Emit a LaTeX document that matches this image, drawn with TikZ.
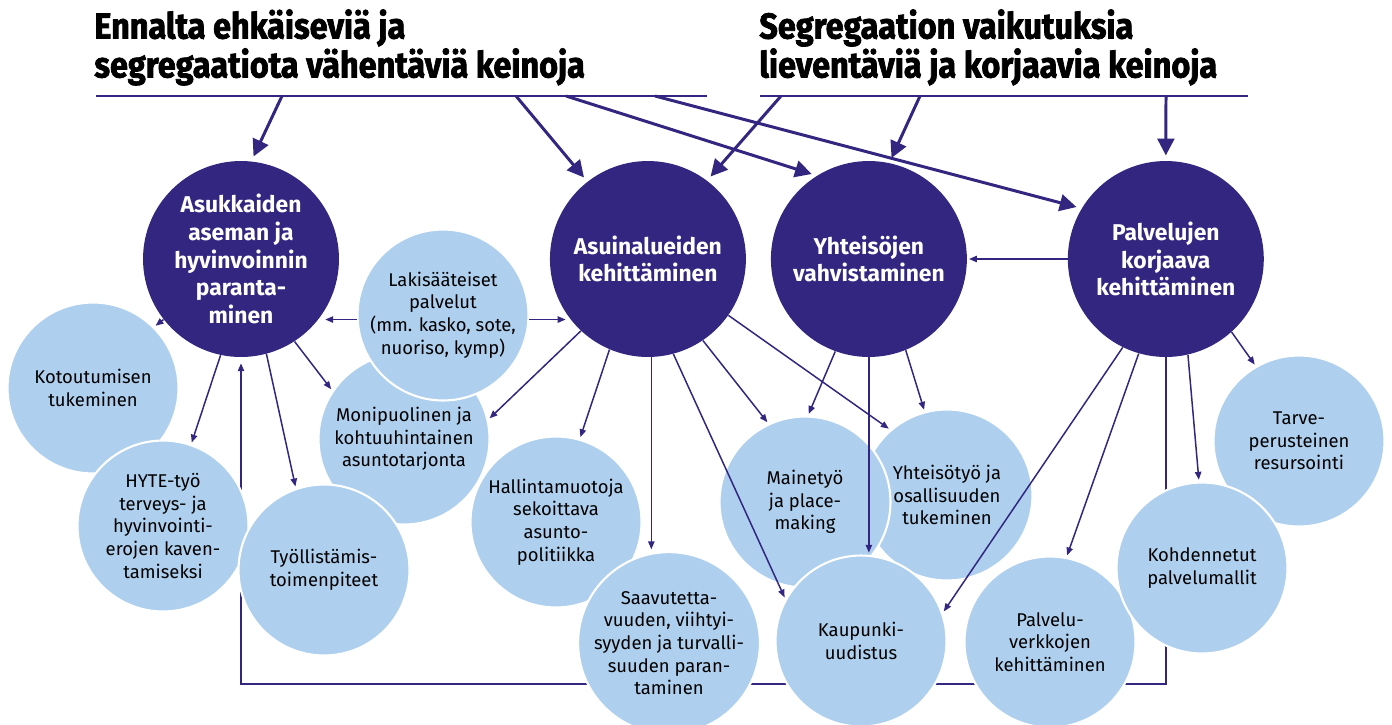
\documentclass[tikz,border=0pt]{standalone}
\usepackage{fontspec}
\setmainfont{Fira Sans}
\newfontfamily\titulofont[FakeStretch=0.9,FakeBold=2]{Fira Sans}
\usetikzlibrary{arrows.meta, positioning}
\definecolor{morado}{RGB}{50,38,128}
\definecolor{celeste}{RGB}{174,208,238}
\tikzstyle{principal}=[circle, fill=morado, text=white, minimum size=3.92cm,
inner sep=0pt, align=center, font=\bfseries\fontsize{13}{15.7}\selectfont]
\tikzstyle{medida}=[circle, fill=celeste, draw=white, line width=1.2pt,
minimum size=3.42cm, inner sep=0pt, align=center, font=\fontsize{10.5}{12.9}\selectfont]
\tikzstyle{titulo}=[anchor=north west, inner sep=0pt, align=left,
font=\titulofont\bfseries\fontsize{20.5}{21}\selectfont]
\tikzstyle{raya}=[morado, line width=1.7pt]
\tikzstyle{flecha}=[morado, line width=1.7pt, shorten >=3pt, -{Triangle[length=9.5pt,width=9.5pt]}]
\tikzstyle{flechita}=[morado, line width=0.85pt, shorten >=1pt, -{Triangle[length=4.5pt,width=3.6pt]}]

\begin{document}
\begin{tikzpicture}[x=0.02cm, y=-0.02cm]
	\useasboundingbox (0,0) rectangle (1392,724);
	% encabezados
	\node[titulo] (prevencion) at (94,9) {Ennalta ehkäiseviä ja\\segregaatiota vähentäviä keinoja};
	\node[titulo] (correccion) at (759,9) {Segregaation vaikutuksia\\lieventäviä ja korjaavia keinoja};
	\coordinate (izqa) at (96,96);
	\coordinate (izqb) at (707,96);
	\coordinate (dera) at (760,96);
	\coordinate (derb) at (1248,96);
	\draw[raya] (izqa) -- (izqb);
	\draw[raya] (dera) -- (derb);
	\coordinate (p1) at (282,96);
	\coordinate (p2) at (516,96);
	\coordinate (p3) at (566,96);
	\coordinate (p4) at (655,96);
	\coordinate (k1) at (781,96);
	\coordinate (k2) at (920,96);
	\coordinate (k3) at (1166,96);
	% circulos principales
	\node[principal] (asukkaat) at (241,259) {Asukkaiden\\aseman ja\\hyvinvoinnin\\paranta-\\minen};
	\node[principal, right of=asukkaat, node distance=8.14cm] (asuinalueet) {Asuinalueiden\\kehittäminen};
	\node[principal, right of=asuinalueet, node distance=4.42cm] (yhteisot) {Yhteisöjen\\vahvistaminen};
	\node[principal, right of=yhteisot, node distance=5.94cm] (palvelut) {Palvelujen\\korjaava\\kehittäminen};
	\draw[flecha] (p1) -- (asukkaat.84);
	\draw[flecha] (p2) -- (asuinalueet.128);
	\draw[flecha] (p3) -- (yhteisot.122);
	\draw[flecha] (p4) -- (palvelut.149);
	\draw[flecha] (k1) -- (asuinalueet.53);
	\draw[flecha] (k2) -- (yhteisot.78);
	\draw[flecha] (k3) -- (palvelut.north);
	% retorno
	\coordinate (retorno) at (0,684);
	\draw[flechita, shorten >=3.4pt] (palvelut.south) -- (palvelut.south |- retorno) -| (asukkaat.south);
	% medidas
	\node[medida] (kotoutuminen) at (93,388) {Kotoutumisen\\tukeminen};
	\node[medida] (hyte) at (163,526) {HYTE-työ\\terveys- ja\\hyvinvointi-\\erojen kaven-\\tamiseksi};
	\node[medida] (monipuolinen) at (404,439) {Monipuolinen ja\\kohtuuhintainen\\asuntotarjonta};
	\node[medida] (lakisaateiset) at (443,315) {Lakisääteiset\\palvelut\\(mm. kasko, sote,\\nuoriso, kymp)};
	\node[medida] (tyollisyys) at (324,570) {Työllistämis-\\toimenpiteet};
	\node[medida] (hallinta) at (556,522) {Hallintamuotoja\\sekoittava\\asunto-\\politiikka};
	\node[medida] (saavutettavuus) at (669,643) {Saavutetta-\\vuuden, viihtyi-\\syyden ja turvalli-\\suuden paran-\\taminen};
	\node[medida] (yhteisotyo) at (947,495) {Yhteisötyö ja\\osallisuuden\\tukeminen};
	\node[medida] (mainetyo) at (805,502) {Mainetyö\\ja place-\\making};
	\node[medida] (kaupunki) at (861,641) {Kaupunki-\\uudistus};
	\node[medida] (tarve) at (1299,441) {Tarve-\\perusteinen\\resursointi};
	\node[medida] (palveluverkot) at (1050,642) {Palvelu-\\verkkojen\\kehittäminen};
	\node[medida] (kohdennetut) at (1202,568) {Kohdennetut\\palvelumallit};
	% flechas
	\draw[flechita] (asukkaat.218) -- (kotoutuminen.45);
	\draw[flechita] (asukkaat.258) -- (hyte.71);
	\draw[flechita] (asukkaat.285) -- (tyollisyys.109);
	\draw[flechita] (asukkaat.303) -- (monipuolinen.146);
	\draw[flechita] (lakisaateiset.183) -- (asukkaat.327 |- lakisaateiset.183);
	\draw[flechita] (lakisaateiset.357) -- (asuinalueet.215 |- lakisaateiset.357);
	\draw[flechita] (asuinalueet.227) -- (monipuolinen.13);
	\draw[flechita] (asuinalueet.247) -- (hallinta.74);
	\draw[flechita] (asuinalueet.272) -- (asuinalueet.272 |- saavutettavuus.north);
	\draw[flechita] (asuinalueet.285) -- (kaupunki.151);
	\draw[flechita] (asuinalueet.304) -- (mainetyo.115);
	\draw[flechita] (asuinalueet.325) -- (yhteisotyo.131);
	\draw[flechita] (yhteisot.250) -- (mainetyo.88);
	\draw[flechita] (yhteisot.south) -- (yhteisot.south |- kaupunki.north);
	\draw[flechita] (yhteisot.292) -- (yhteisotyo.105);
	\draw[flechita] (palvelut.west) -- (yhteisot.east);
	\draw[flechita] (palvelut.312) -- (tarve.120);
	\draw[flechita] (palvelut.244) -- (kaupunki.19);
	\draw[flechita] (palvelut.254) -- (palveluverkot.79);
	\draw[flechita] (palvelut.283) -- (kohdennetut.92);
\end{tikzpicture}
\end{document}
